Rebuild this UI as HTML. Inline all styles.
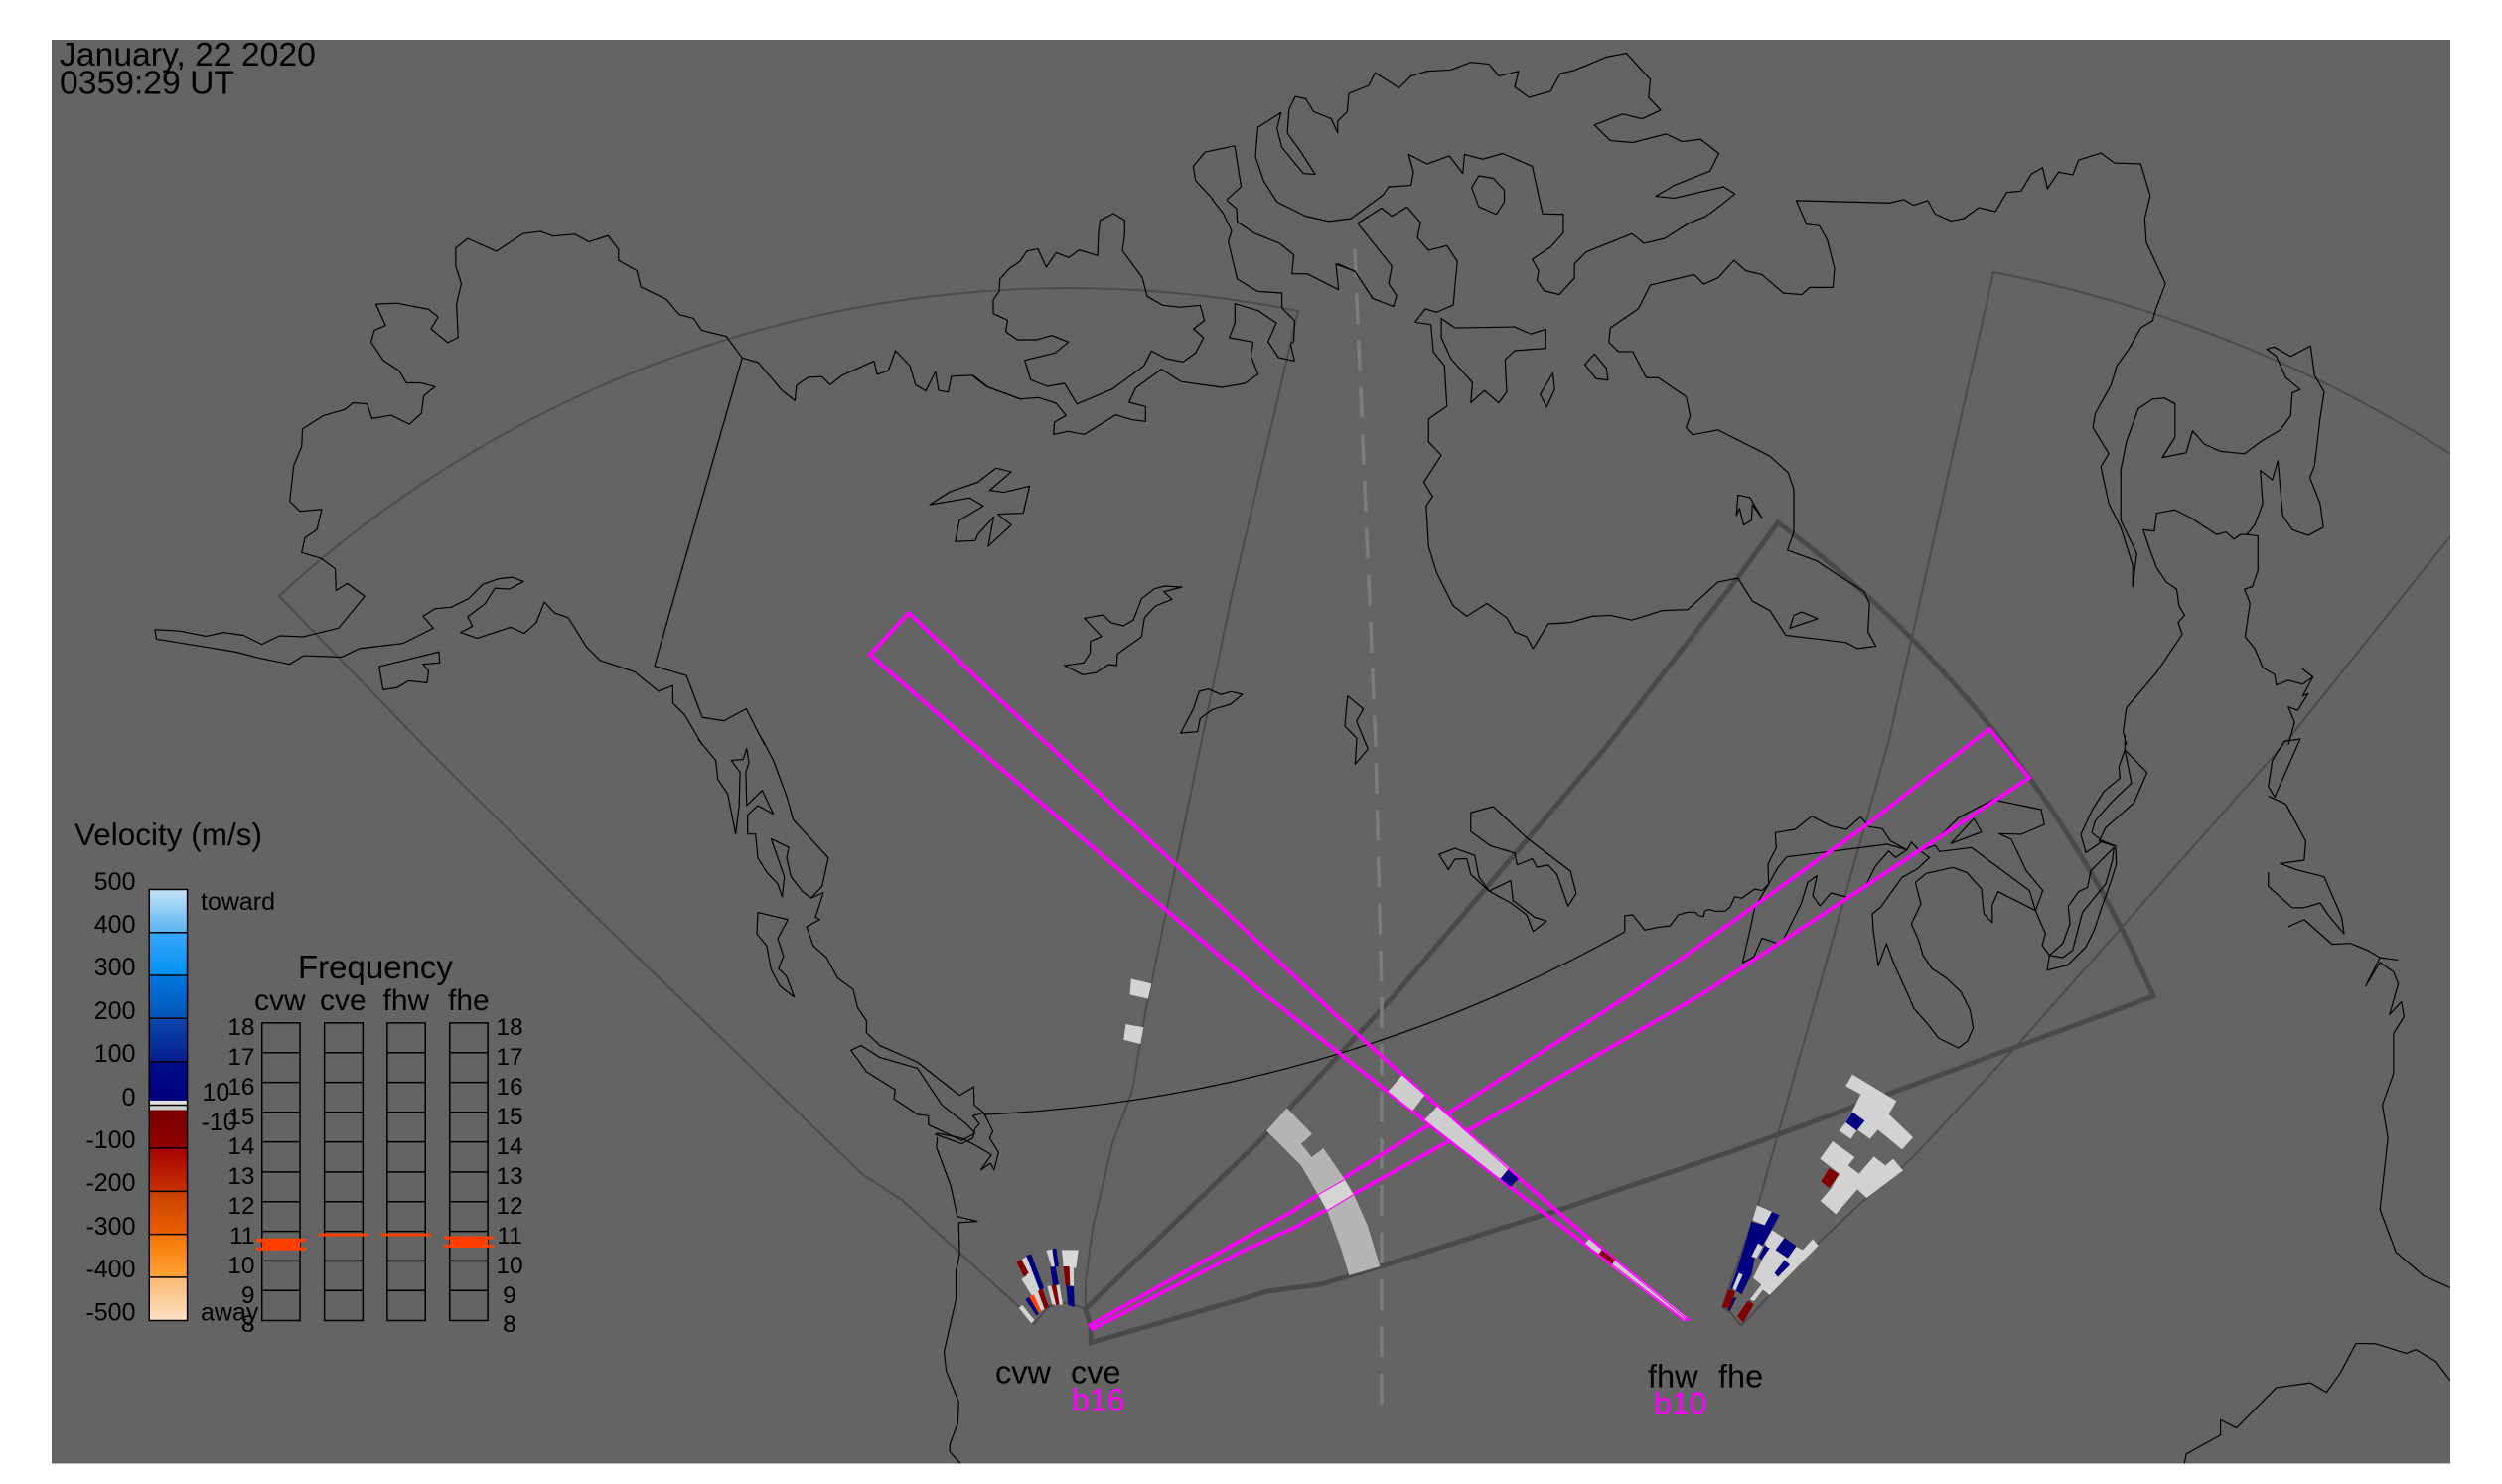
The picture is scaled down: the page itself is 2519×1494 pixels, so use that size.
<!DOCTYPE html>
<html><head><meta charset="utf-8"><style>
html,body{margin:0;padding:0;background:#fff}
svg{display:block}
text{font-family:"Liberation Sans",sans-serif;fill:#000}
.c{fill:none;stroke:#000;stroke-width:1.2;vector-effect:non-scaling-stroke;stroke-linejoin:round}
.c *{vector-effect:non-scaling-stroke}
.l{fill:#d2d2d2}.n{fill:#000080}.r{fill:#800000}.o{fill:#ff4500}
.ln{stroke:#000;stroke-width:1.5;fill:none}
.ln *{vector-effect:non-scaling-stroke}
</style></head><body>
<svg xmlns="http://www.w3.org/2000/svg" width="2519" height="1494" viewBox="0 0 2519 1494">
<defs>
<clipPath id="bg"><rect x="52" y="40" width="2415" height="1433.5"/></clipPath>
<linearGradient id="g1" x1="0" y1="0" x2="0" y2="1"><stop offset="0" stop-color="#c4e2f6"/><stop offset="1" stop-color="#58b4f2"/></linearGradient>
<linearGradient id="g2" x1="0" y1="0" x2="0" y2="1"><stop offset="0" stop-color="#38a8f8"/><stop offset="1" stop-color="#0090f4"/></linearGradient>
<linearGradient id="g3" x1="0" y1="0" x2="0" y2="1"><stop offset="0" stop-color="#0078e0"/><stop offset="1" stop-color="#0454b4"/></linearGradient>
<linearGradient id="g4" x1="0" y1="0" x2="0" y2="1"><stop offset="0" stop-color="#0a48ac"/><stop offset="1" stop-color="#061e90"/></linearGradient>
<linearGradient id="g5" x1="0" y1="0" x2="0" y2="1"><stop offset="0" stop-color="#000e88"/><stop offset="1" stop-color="#00007c"/></linearGradient>
<linearGradient id="g6" x1="0" y1="0" x2="0" y2="1"><stop offset="0" stop-color="#780000"/><stop offset="1" stop-color="#920000"/></linearGradient>
<linearGradient id="g7" x1="0" y1="0" x2="0" y2="1"><stop offset="0" stop-color="#a40000"/><stop offset="1" stop-color="#c83400"/></linearGradient>
<linearGradient id="g8" x1="0" y1="0" x2="0" y2="1"><stop offset="0" stop-color="#c84000"/><stop offset="1" stop-color="#ea6000"/></linearGradient>
<linearGradient id="g9" x1="0" y1="0" x2="0" y2="1"><stop offset="0" stop-color="#f47400"/><stop offset="1" stop-color="#ffa438"/></linearGradient>
<linearGradient id="g10" x1="0" y1="0" x2="0" y2="1"><stop offset="0" stop-color="#f6b870"/><stop offset="1" stop-color="#ffe2c6"/></linearGradient>
</defs>
<rect width="2519" height="1494" fill="#fff"/>
<rect x="52" y="40" width="2415" height="1433.5" fill="#646464"/>
<g clip-path="url(#bg)">

<!-- thin fans -->
<g fill="none" stroke="#4c4c4c" stroke-width="2" stroke-linejoin="round">
<path d="M1041,1333 L1026,1316 908,1208 868,1182 600,923 426,750 281,600 A1175,1175 0 0 1 1307,313 L1240,600 1153,1020 1140,1098 1120,1151 1100,1237 1093,1290 1092.7,1318 Q1068,1306 1053,1318 L1041,1333"/>
<path d="M1753,1335 L1743,1322 1734,1316 1770,1213 1902,744 2007,274 A1320,1320 0 0 1 2475,462"/>
<polyline points="1753,1335 1830,1252 1878,1207 1926,1165 2033,1050 2304,744 2475,530"/>
</g>
<!-- thick fan -->
<path fill="none" stroke="#4a4a4a" stroke-width="5" stroke-linejoin="miter" d="M1092.7,1318 L1266.7,1150 1404,1002 1617,752 1750,581 1790,526 A1175,1175 0 0 1 2168,1003 L1750,1157 1573,1217 1390,1275 1330,1293 1276,1300 1250,1308 1098.3,1351.7 1098,1334 1092.7,1318"/>
<!-- dashed -->
<polyline fill="none" stroke="#7c7c7c" stroke-width="3.5" stroke-dasharray="31 16.3" points="1391,1413.6 1391,1000 1385,750 1364,251"/>

<!-- coast -->
<g class="c">
<path d="M990.6,1122 A1450,1450 0 0 0 1636,938"/>
<g transform="translate(1260,744) scale(.80293,.47832)">
<polyline points="468,405 468,372 478,370 493,402 510,396 525,393 535,370 548,364"/>
</g>
<g transform="translate(0,0) scale(.80357,.47832)">
<polyline points="194,1325 196,1345 240,1357 295,1372 325,1385 363,1398 380,1380 428,1383 450,1365 505,1354 543,1322 530,1297 545,1281 565,1278 587,1260 605,1230 625,1218 642,1215 656,1224 638,1240 620,1238 608,1270 586,1298 592,1318 577,1331 598,1343 640,1320 657,1333 672,1310 682,1267 695,1290 712,1300 735,1362 752,1390 795,1414 825,1455 843,1443 843,1480 858,1505 880,1568"/>
<polyline points="194,1325 225,1328 258,1339 280,1331 305,1337 328,1356 350,1338 380,1340 424,1322 457,1255 435,1228 421,1243 420,1197 402,1175 378,1163 382,1132 397,1115 403,1072 376,1076 363,1055 368,980 378,940 379,903 405,875 432,862 442,848 460,850 466,881 490,874 513,893 528,870 531,833 545,814 527,806 509,806 500,780 480,758 465,720 469,695 483,685 471,640 497,638 537,651 549,667 540,692 561,721 574,710 572,640 578,597 571,560 571,522 586,502 622,529 655,492 677,487 693,497 720,493 738,509 762,496 775,525 775,548 798,570 803,604 835,630 851,662 869,670 879,695 910,708 930,753 950,763 980,822 996,843 998,811 1013,794 1030,793 1040,810 1055,790 1095,760 1099,788 1113,780 1122,738 1140,770 1147,810 1160,823 1172,782 1176,822 1188,825 1192,792 1219,790 1238,815 1280,841"/>
<polyline points="930,753 820,1402 860,1422 880,1510 907,1517 935,1492 958,1568"/>
<polygon points="475,1403 550,1372 551,1395 530,1398 537,1412 535,1437 512,1433 498,1447 480,1452"/>
<polygon points="1248,985 1267,993 1240,1032 1258,1036 1290,1023 1282,1080 1250,1082 1267,1105 1238,1150 1245,1088 1225,1125 1222,1138 1197,1140 1202,1095 1232,1065 1215,1048 1165,1062 1190,1035 1225,1015"/>
<polyline points="1547,307 1510,320 1495,350 1498,380 1520,420"/>
<polyline points="1547,307 1555,393 1537,420"/>
</g>
<g transform="translate(980,200) scale(.33333)">
<polygon points="60,347 60,305 78,280 80,243 110,210 140,190 162,158 195,152 220,207 250,163 288,178 320,155 375,172 378,100 383,65 423,45 457,65 457,110 450,157 510,238 525,295 572,322 625,328 685,322 698,368 665,393 695,420 672,465 633,493 582,483 538,460 515,505 420,575 313,620 275,558 223,567 173,547 155,488 247,466 287,433 237,413 190,426 133,426 98,402 103,367"/>
<polyline points="720,0 755,45 780,97 770,130 797,243 858,280 932,285 932,330 970,368 968,430 958,440 970,490 922,480 890,432 915,375 860,338 790,317 790,375 773,420 845,433 838,475 860,530 820,558 750,570 628,553 568,515 490,572 470,615 520,628 520,673 480,668 430,653 335,712 285,703 242,712 245,675 280,655 250,618 197,601 143,605 40,568 0,537"/>
<polyline points="765,5 795,30 797,70 850,105 925,135 968,170 962,227 1008,227 1103,275 1095,198 1155,220"/>
</g>
<g transform="translate(1260,0) scale(.80293,.47832)">
<polyline points="108,555 130,572 152,628 178,645 182,622 172,597 176,560 133,470 163,438 176,455 195,436 212,468 208,500 222,527 245,517 258,550 253,642 232,657 218,650 205,678 225,683 228,740 242,770 245,855 222,882 222,930 238,958 216,1015 227,1045 219,1065 222,1150 232,1205 253,1275 270,1297 295,1270 320,1300 330,1330 345,1340 353,1365 372,1313 400,1310 427,1297 450,1295 477,1305 515,1285 547,1283 585,1225 610,1217 628,1265 650,1285 670,1337 710,1345 745,1352 760,1365 783,1360 773,1330 775,1270 768,1245 735,1210 708,1180 672,1158 680,1120 680,1030 673,995 650,960 585,905 553,915 545,900 550,875 545,835 510,795 495,795 478,740 460,740 448,720 450,690 485,650 500,600 555,578 567,598 585,585 605,548 620,570 640,578 667,617 690,620 700,605 729,605 731,565 722,505 712,475 696,472 683,422 800,427 818,420 830,432 848,422 857,450 877,465 893,460 912,437 933,445 947,405 965,402 978,366 992,353 998,397 1012,362 1030,368 1037,337 1065,322 1082,343 1115,345 1127,412 1120,460 1122,510 1146,597 1133,655 1130,675 1115,690 1100,735 1085,770 1078,810 1058,870 1055,900 1075,955 1065,982 1075,1060 1090,1110 1105,1190 1105,1235 1110,1165 1090,1095 1090,990 1097,930 1112,860 1130,840 1145,838 1158,850 1158,920 1142,963 1172,953 1180,907 1195,935 1215,950 1245,955 1265,930 1290,905 1303,875 1305,827 1315,820 1297,795 1285,750 1273,735 1282,730 1303,750 1328,728 1333,790 1345,825 1340,880 1333,980 1327,1005 1340,1060 1344,1110 1325,1127 1305,1115 1293,1085 1287,970 1280,1010 1265,990 1268,1060 1258,1105 1248,1125 1262,1128 1262,1200 1255,1235 1245,1240 1252,1270 1246,1340 1258,1365 1268,1405 1283,1420 1285,1442 1300,1432 1318,1440 1331,1425 1318,1408 1331,1425 1318,1465 1325,1460 1312,1495 1300,1488 1308,1520 1300,1568"/>
<polyline points="1248,1125 1240,1125 1232,1135 1222,1120 1210,1125 1178,1090 1158,1073 1135,1080 1132,1118 1118,1115 1125,1150 1135,1195 1147,1225 1160,1240 1163,1275 1170,1295 1162,1310 1167,1335 1135,1415 1097,1490 1093,1540 1097,1568"/>
<polygon points="37,237 8,268 5,330 15,380 32,425 68,455 97,466 125,460 165,410 172,393 200,390 203,362 197,325 220,345 248,328 265,365 267,325 290,335 315,323 352,350 365,450 391,451 391,490 375,520 352,546 360,570 358,590 367,612 386,620 405,585 405,555 420,530 477,492 492,512 518,502 548,470 570,455 590,430 606,408 592,393 530,417 507,413 530,390 575,360 586,323 563,293 540,298 520,282 478,300 450,296 430,263 465,240 490,250 513,232 498,205 500,167 470,112 445,120 405,148 387,155 375,192 348,205 330,183 335,150 310,160 298,135 275,131 250,147 220,150 200,160 185,185 155,153 147,180 122,197 120,235 108,255 108,280 100,250 78,235 68,208 55,203 47,230 45,280 62,320 80,367 65,365 38,310 32,270"/>
<polygon points="285,370 303,375 317,400 317,425 307,451 285,435 276,395"/>
<polygon points="362,830 378,785 380,820 370,857"/>
<polygon points="418,767 430,745 445,775 447,800 432,797"/>
<polygon points="238,670 255,690 330,688 350,703 369,693 369,733 330,738 318,757 320,825 310,848 292,822 275,848 277,805 250,755 238,710"/>
<polygon points="610,1042 625,1047 640,1090 628,1062 627,1095 617,1105 612,1070 608,1085"/>
<polygon points="690,1288 710,1302 675,1322 680,1295"/>
</g>
<g transform="translate(1260,744) scale(.80293,.47832)">
<polygon points="275,155 303,142 345,208 400,278 407,325 397,352 383,285 372,265 358,270 352,252 333,265 330,240 300,225 275,195"/>
<polygon points="235,243 255,230 280,245 285,290 298,320 325,298 328,340 355,375 370,383 353,405 345,370 325,345 298,320 275,285 270,252 255,253 247,275"/>
<polygon points="1295,5 1315,0 1283,122 1275,100 1280,45"/>
<polyline points="1275,120 1297,137 1322,215 1320,255 1290,262 1310,275 1345,290 1367,375 1370,410 1350,370 1340,345 1320,355 1305,355 1275,310 1275,280"/>
<polyline points="1300,395 1320,380 1355,432 1378,430 1400,445 1415,460 1437,465 1415,460 1397,520 1415,470 1432,490 1438,515 1427,580 1442,553 1445,585 1432,620 1432,705 1418,770 1425,840 1415,990 1435,1080 1470,1130 1503,1155"/>
<polyline points="1170,1525 1172,1505 1215,1465 1215,1433 1235,1450 1285,1365 1328,1355 1348,1375 1365,1335 1385,1272 1410,1273 1448,1293 1460,1285 1485,1310 1503,1350"/>
</g>
<g transform="translate(600,744) scale(.44643,.47832)">
<polyline points="230,0 270,45 275,85 297,115 315,200 323,140 325,70 305,45 332,43 340,20 345,50 338,70 340,140 375,108 400,158 365,140 342,160 342,200 360,200 365,250 385,280 410,305 420,332 425,290 395,210 435,228 430,250 440,290 465,320 485,335 510,310 524,250 445,170 430,120 400,45 375,0"/>
<polyline points="485,335 513,323 495,375 505,380 475,395 490,435 520,460 545,503 580,527 590,565 610,593 610,618 640,645 725,680 820,750 852,732 853,770 875,787 895,825 888,840 908,870 898,907 890,893 868,907 892,875 855,855 825,840 770,830 765,832 825,852 850,840 855,820 865,810 850,793 875,787"/>
<polygon points="575,655 598,645 640,670 725,693 780,770 835,810 855,830 825,845 750,812 750,793 725,790 672,757 675,738 610,700"/>
<polyline points="770,838 768,860 800,940 815,1005 860,1015 818,1018 820,1085 812,1120 812,1180 785,1290 790,1330 818,1395 816,1440 798,1485 798,1500 822,1525"/>
<polygon points="365,365 433,380 410,420 423,457 412,483 430,500 447,543 415,520 395,485 385,435 363,410"/>
</g>
<g transform="translate(1000,580) scale(.33333)">
<polygon points="570,33 518,30 487,38 448,68 423,133 393,150 355,140 332,117 275,127 327,182 293,197 293,232 273,262 215,270 270,298 310,292 348,267 373,270 375,235 448,183 457,125 490,90 540,70 515,47"/>
<polygon points="622,348 650,341 688,358 718,349 753,357 717,387 662,403 625,430 617,470 566,474 605,400"/>
<polygon points="1070,362 1118,401 1097,438 1132,522 1093,568 1098,490 1062,453"/>
</g>
<g transform="translate(1700,740) scale(.33333)">
<polyline points="0,535 20,535 30,545 45,548 50,530 65,527 80,532 110,532 125,520 140,488 160,493 200,465 222,470 242,450 240,390 265,340 262,295 322,285 372,245 430,275 477,285 520,247 545,277 585,283 610,320 660,347"/>
<polyline points="660,347 625,370 605,350 565,395 530,465 480,490 430,477 397,516 375,485 388,425 360,445 340,510 290,610 275,632 222,613 197,670 163,688 190,570 200,520 242,450 270,400 297,368 600,330 660,347 673,323 695,347 728,370 690,405 645,430 580,520 555,540 558,590 573,697 598,630 620,690 670,800 680,825 720,870 755,915 815,945 842,925 860,885 850,830 822,775 780,735 735,705 708,665 695,620 673,570 702,510 685,445 718,418 798,400 840,415 885,465 892,540 918,567 917,515 935,473 1048,530 1078,600 1068,635 1090,665 1130,672 1160,650 1190,535 1235,480 1260,450 1280,380 1285,340 1215,410 1205,460 1178,473 1147,517 1152,570 1130,630 1090,665 1083,710 1145,695 1200,640 1225,590 1250,515 1280,430 1292,390 1290,335 1250,320 1218,295 1228,260 1280,200 1338,145 1318,45 1385,113 1345,205 1260,280 1240,320 1285,335"/>
<polyline points="1318,0 1318,45 1300,95 1303,130 1255,170 1220,225 1185,300 1200,355 1237,330 1250,320"/>
<polyline points="700,347 745,315 775,290 815,250 920,195 1065,225 1075,270 1005,300 938,298 975,315 1020,410 1070,470 1048,530"/>
<polyline points="700,350 745,333 758,352 855,340 1030,470 1048,530"/>
<polygon points="792,328 862,252 885,293"/>
</g>
</g>

<!-- beams -->
<g id="bm" fill="none" stroke="#ff00ff" stroke-width="3.8" stroke-linejoin="miter">
<polygon points="915,617 1000,698 1343,1020 1412,1082 1528,1185 1600,1247 1698,1328 1695,1328 1595,1252 1510,1187 1397,1099 1348,1060 1272,1000 1000,767 876,659"/>
<polygon points="1097.7,1334 1297,1222 1327,1203 1353,1186 1467,1115 1643,1000 1700,960 1880,830 2003,734 2043,783 1877,893 1715,1000 1480,1137 1363,1202 1305,1235 1250,1260 1100,1338"/>
</g>

<!-- scatter: gray arc and in-beam cells -->
<g transform="translate(1250,1000) scale(.33333)">
<polygon fill="#b4b4b4" points="137,346 213,425 180,455 212,495 247,468 310,560 340,610 380,700 418,825 325,852 300,770 258,655 232,610 180,520 75,415"/>
<polygon fill="#d4d4d4" points="232,608 310,563 338,608 258,657"/>
<path d="M232,608 L310,563 M258,657 L338,608" fill="none" stroke="#ff00ff" stroke-width="3.3"/>
<polygon fill="#cdcdcd" points="485,247 553,307 515,357 441,298"/>
<polygon fill="#cdcdcd" points="592,341 808,527 780,563 553,382"/>
<polygon class="n" points="808,530 837,560 810,587 780,562"/>
<polygon fill="#cdcdcd" points="1052,740 1090,775 1078,788 1038,755"/>
<polygon class="r" points="1090,772 1130,803 1117,820 1078,788"/>
<polygon fill="#cdcdcd" points="1130,805 1345,980 1337,988 1117,822"/>
</g>
<g transform="translate(600,744) scale(.44643,.47832)" class="l">
<polygon points="1207,505 1253,515 1245,547 1204,538"/>
<polygon points="1195,600 1235,607 1228,642 1190,633"/>
</g>
<!-- thin pink over cells -->
<polygon fill="none" stroke="#ff00ff" stroke-width="1.1" points="915,617 1000,698 1343,1020 1412,1082 1528,1185 1600,1247 1698,1328 1695,1328 1595,1252 1510,1187 1397,1099 1348,1060 1272,1000 1000,767 876,659"/>

<!-- cvw/cve cells -->
<g transform="translate(1000,1240) scale(.33333)">
<polygon fill="#d8d8d8" points="207,55 257,55 250,110 212,105"/>
<polygon class="r" points="212,105 230,105 232,163 218,163"/>
<polygon class="l" points="230,105 243,107 243,165 232,163"/>
<polygon class="n" points="220,163 243,165 245,228 226,222"/>
<polygon class="l" points="160,57 178,53 186,107 176,106"/>
<polygon class="n" points="178,53 190,50 198,105 186,107"/>
<polygon class="n" points="172,107 188,105 198,160 180,162"/>
<polygon class="l" points="163,165 178,162 190,222 178,220"/>
<polygon class="r" points="175,162 190,160 200,220 190,222"/>
<polygon class="l" points="190,162 200,160 210,220 200,222"/>
<polygon class="l" points="85,85 100,75 140,175 118,175"/>
<polygon class="n" points="100,72 115,68 153,170 140,177"/>
<polygon class="r" points="70,92 85,83 107,125 92,135"/>
<polygon class="l" points="85,143 115,125 163,230 145,240"/>
<polygon class="r" points="135,180 148,172 168,228 155,235"/>
<polygon class="o" points="108,197 122,190 145,240 135,247"/>
<polygon class="n" points="97,205 108,197 138,248 130,253"/>
<polygon class="l" points="77,230 88,222 124,267 115,277"/>
</g>
<!-- fhw/fhe cells -->
<g transform="translate(1600,1050) scale(.33333)">
<polygon class="l" points="795,95 928,175 905,215 978,285 945,322 872,262 848,290 810,262 790,290 755,265 775,240 795,205 820,155 775,130"/>
<polygon class="n" points="795,208 832,235 808,265 775,240"/>
<polygon class="l" points="735,297 802,345 782,370 815,395 860,343 895,370 918,350 948,385 838,468 810,442 745,517 698,477 730,440 755,395 697,350"/>
<polygon class="r" points="725,378 755,397 725,438 700,418"/>
<polygon class="l" points="507,490 552,510 530,550 493,535"/>
<polygon class="n" points="490,540 530,550 552,510 575,520 520,620 500,650 490,700 460,760 440,745 425,745 445,690 470,610"/>
<polygon class="n" points="435,770 445,770 425,810 418,805"/>
<polygon class="r" points="420,745 442,750 425,802 402,798"/>
<polygon class="l" points="552,565 590,590 563,625 600,650 625,615 645,625 675,592 692,612 545,762 525,745 498,780 485,775 520,730 495,710 540,620 530,605"/>
<polygon class="l" points="510,605 525,615 505,650 490,645"/>
<polygon class="l" points="452,695 464,700 442,748 433,742"/>
<polygon class="n" points="590,588 625,613 600,650 563,625"/>
<polygon class="n" points="590,655 606,670 570,707 560,695"/>
<polygon class="n" points="530,612 545,620 520,655 512,648"/>
<polygon class="r" points="480,778 497,790 465,845 447,825"/>
</g>

<!-- legend -->
<g transform="translate(0,780) scale(.39541,.38265)">
<rect x="380" y="302" width="97" height="113" fill="url(#g1)"/>
<rect x="380" y="415" width="97" height="113" fill="url(#g2)"/>
<rect x="380" y="528" width="97" height="113" fill="url(#g3)"/>
<rect x="380" y="641" width="97" height="114" fill="url(#g4)"/>
<rect x="380" y="755" width="97" height="102" fill="url(#g5)"/>
<rect x="380" y="857" width="97" height="12" fill="#e2e2e2"/>
<rect x="380" y="869" width="97" height="13" fill="#cccccc"/>
<rect x="380" y="882" width="97" height="100" fill="url(#g6)"/>
<rect x="380" y="982" width="97" height="114" fill="url(#g7)"/>
<rect x="380" y="1096" width="97" height="113" fill="url(#g8)"/>
<rect x="380" y="1209" width="97" height="113" fill="url(#g9)"/>
<rect x="380" y="1322" width="97" height="114" fill="url(#g10)"/>
<g class="ln">
<rect x="380" y="302" width="97" height="1134"/>
<path d="M380 415H477M380 528H477M380 641H477M380 755H477M380 869H477M380 982H477M380 1096H477M380 1209H477M380 1322H477"/>
</g>
<g class="ln">
<rect x="667" y="653" width="97" height="783"/><rect x="826" y="653" width="98" height="783"/><rect x="986" y="653" width="97" height="783"/><rect x="1145" y="653" width="97" height="783"/>
<path d="M667 731H764M667 809H764M667 888H764M667 966H764M667 1045H764M667 1123H764M667 1201H764M667 1279H764M667 1357H764"/>
<path d="M826 731H924M826 809H924M826 888H924M826 966H924M826 1045H924M826 1123H924M826 1201H924M826 1279H924M826 1357H924"/>
<path d="M986 731H1083M986 809H1083M986 888H1083M986 966H1083M986 1045H1083M986 1123H1083M986 1201H1083M986 1279H1083M986 1357H1083"/>
<path d="M1145 731H1242M1145 809H1242M1145 888H1242M1145 966H1242M1145 1045H1242M1145 1123H1242M1145 1201H1242M1145 1279H1242M1145 1357H1242"/>
</g>
<g fill="#ff4000">
<rect x="667" y="1220" width="97" height="31"/><rect x="652" y="1220" width="127" height="9"/><rect x="652" y="1243" width="127" height="8"/>
<rect x="812" y="1206" width="125" height="8"/>
<rect x="972" y="1206" width="125" height="8"/>
<rect x="1145" y="1214" width="97" height="30"/><rect x="1130" y="1214" width="127" height="8"/><rect x="1130" y="1236" width="127" height="8"/>
</g>
</g>
</g>

<g font-size="33.7">
<text x="60" y="66">January, 22 2020</text>
<text x="60" y="94.5">0359:29 UT</text>
</g>
<text x="75" y="851" font-size="31.5">Velocity (m/s)</text>
<g font-size="25" text-anchor="end">
<text x="136.5" y="896">500</text><text x="136.5" y="939">400</text><text x="136.5" y="982">300</text><text x="136.5" y="1026">200</text><text x="136.5" y="1069">100</text><text x="136.5" y="1113">0</text><text x="136.5" y="1156">-100</text><text x="136.5" y="1199">-200</text><text x="136.5" y="1243">-300</text><text x="136.5" y="1286">-400</text><text x="136.5" y="1329.5">-500</text>
</g>
<g font-size="25">
<text x="202" y="916">toward</text><text x="202" y="1329.5">away</text>
<text x="203.5" y="1108">10</text><text x="202.5" y="1138">-10</text>
</g>
<text x="300" y="985" font-size="33">Frequency</text>
<g font-size="30">
<text x="256" y="1017">cvw</text><text x="322" y="1017">cve</text><text x="385.5" y="1017">fhw</text><text x="451" y="1017">fhe</text>
</g>
<g font-size="24.5" text-anchor="end">
<text x="256.5" y="1042">18</text><text x="256.5" y="1072">17</text><text x="256.5" y="1102">16</text><text x="256.5" y="1132">15</text><text x="256.5" y="1162">14</text><text x="256.5" y="1192">13</text><text x="256.5" y="1222">12</text><text x="256.5" y="1252">11</text><text x="256.5" y="1282">10</text><text x="256.5" y="1312">9</text><text x="256.5" y="1341">8</text>
</g>
<g font-size="24.5" text-anchor="middle">
<text x="513" y="1042">18</text><text x="513" y="1072">17</text><text x="513" y="1102">16</text><text x="513" y="1132">15</text><text x="513" y="1162">14</text><text x="513" y="1192">13</text><text x="513" y="1222">12</text><text x="513" y="1252">11</text><text x="513" y="1282">10</text><text x="513" y="1312">9</text><text x="513" y="1341">8</text>
</g>
<g font-size="32.5">
<text x="1002" y="1392.5">cvw</text><text x="1078" y="1392.5">cve</text>
<text x="1659" y="1396.5">fhw</text><text x="1730" y="1396.5">fhe</text>
</g>
<g font-size="32">
<text x="1079" y="1420.5" style="fill:#ff00ff">b16</text>
<text x="1665" y="1424" style="fill:#ff00ff">b10</text>
</g>
</svg>
</body></html>
